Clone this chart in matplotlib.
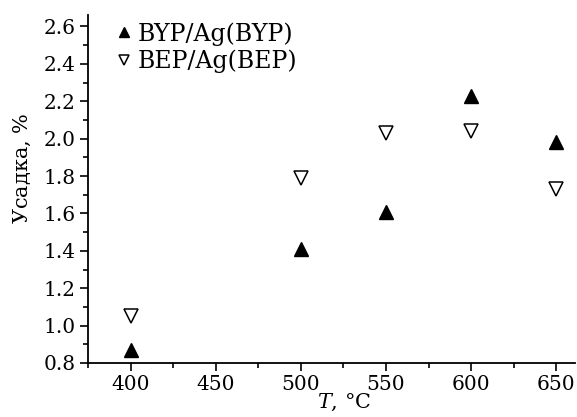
import matplotlib
matplotlib.use("Agg")
import matplotlib.pyplot as plt
from matplotlib.ticker import MultipleLocator

plt.rcParams['font.family'] = ['DejaVu Serif']
plt.rcParams['mathtext.fontset'] = 'dejavuserif'

temps = [400, 500, 550, 600, 650]
byp = [0.87, 1.41, 1.61, 2.23, 1.98]
bep = [1.05, 1.79, 2.03, 2.04, 1.73]

fig = plt.figure(figsize=(5.77, 4.17), dpi=100)
ax = fig.add_axes([0.1525, 0.1295, 0.844, 0.834])

ax.plot(temps, byp, linestyle='none', marker='^', ms=9.5, color='black',
        label='BYP/Ag(BYP)')
ax.plot(temps, bep, linestyle='none', marker='v', ms=9.5, mfc='white',
        mec='black', mew=1.1, label='BEP/Ag(BEP)')

ax.set_xlim(375, 661)
ax.set_ylim(0.8, 2.66)
ax.xaxis.set_major_locator(MultipleLocator(50))
ax.xaxis.set_minor_locator(MultipleLocator(25))
ax.yaxis.set_major_locator(MultipleLocator(0.2))
ax.yaxis.set_minor_locator(MultipleLocator(0.1))
ax.yaxis.set_major_formatter(plt.FormatStrFormatter('%.1f'))

for s in ['top', 'right']:
    ax.spines[s].set_visible(False)
for s in ['left', 'bottom']:
    ax.spines[s].set_linewidth(1.3)

ax.tick_params(which='major', length=6, width=1.2, labelsize=14.5, direction='out', pad=3)
ax.tick_params(which='minor', length=3.6, width=1.2, direction='out')

ax.set_xlabel(r'$T$, °C', fontsize=15)
ax.xaxis.set_label_coords(0.526, -0.083)
ax.set_ylabel(r'Усадка, $\%$', fontsize=15)
ax.yaxis.set_label_coords(-0.113, 0.56)

ax.legend(loc='upper left', frameon=False, fontsize=17, handletextpad=0.1,
          handlelength=1.0, markerscale=0.75, borderaxespad=0.0,
          labelspacing=0.15, bbox_to_anchor=(0.03, 1.007))

fig.savefig('out.png', dpi=100)
